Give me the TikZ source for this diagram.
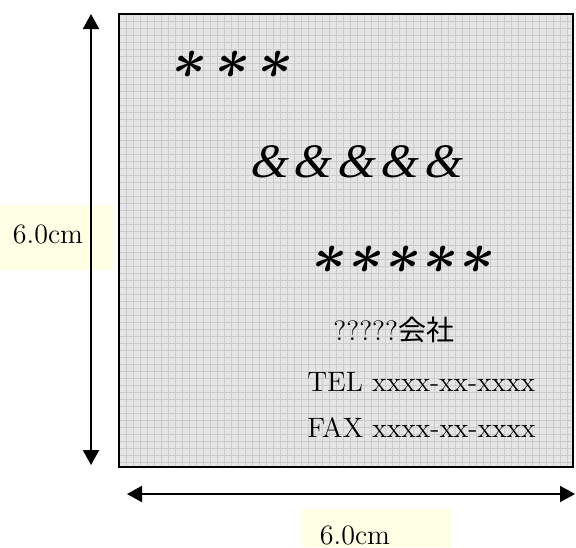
\documentclass[tikz,border=0pt]{standalone}
\usepackage{fontspec}
\usepackage{xcolor}
\usepackage{tikz}
\usetikzlibrary{arrows.meta}
\newfontfamily\jpfont{Noto Sans CJK JP}
\newfontfamily\ampfont{Liberation Serif}
\definecolor{paper}{rgb}{0.90, 0.90, 0.90}
\definecolor{paperline}{rgb}{0.80, 0.80, 0.80}
\definecolor{memo}{rgb}{1.0, 1.0, 0.90}
\tikzset{
        dimarrow/.style={line width=1pt, {Triangle[length=7.5pt,width=8pt]}-{Triangle[length=7.5pt,width=8pt]}},
        note/.style={inner sep=0pt, font=\fontsize{14}{17}\selectfont},
        ast/.style={inner sep=0pt, scale=2.9, xslant=0.2, font=\boldmath},
        amp/.style={inner sep=0pt, xslant=0.25, font=\fontsize{24}{28}\selectfont\ampfont}
}

\begin{document}
\begin{tikzpicture}[x=0.5pt, y=-0.5pt]
        \useasboundingbox (0,0) rectangle (576,547);
        \fill[memo] (0,205) rectangle (113,270);
        \fill[memo] (302,509) rectangle (452,547);
        \fill[paper] (119,14) rectangle (573,467);
        \draw[paperline, line width=0.3pt, step=3.5pt] (119,467) grid (573,14);
        \draw[line width=1pt] (119,14) rectangle (573,467);
        \coordinate (vtop) at (91,14);
        \coordinate (vbot) at (91,465);
        \coordinate (hleft) at (127,494);
        \coordinate (hright) at (575,494);
        \draw[dimarrow] (vtop) -- (vbot);
        \draw[dimarrow] (hleft) -- (hright);
        \node[note] (vlabel) at (48,234) {6.0cm};
        \node[note] (hlabel) at (355,535) {6.0cm};
        \foreach \i in {0,1,2} \node[ast] (top\i) at (190+43*\i, 65) {$\ast$};
        \foreach \i in {0,...,4} \node[amp] (amp\i) at (272+43.5*\i, 162) {\&};
        \foreach \i in {0,...,4} \node[ast] (low\i) at (330+37*\i, 260) {$\ast$};
        \node[note, anchor=west] (firm) at (333,330) {?????{\jpfont 会社}};
        \node[note, anchor=west] (tel) at (307,382) {TEL xxxx-xx-xxxx};
        \node[note, anchor=west] (fax) at (307,427) {FAX xxxx-xx-xxxx};
\end{tikzpicture}
\end{document}
